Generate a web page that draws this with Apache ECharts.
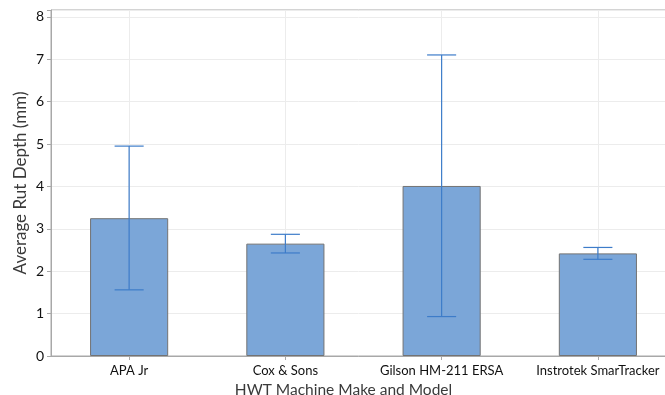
<!DOCTYPE html>
<html>
<head>
<meta charset="utf-8">
<script src="https://cdn.jsdelivr.net/npm/echarts@6/dist/echarts.min.js"></script>
<style>
  html, body { margin: 0; padding: 0; background: #fff; }
  #chart { width: 665px; height: 395px; }
</style>
</head>
<body>
<div id="chart"></div>
<script>
// machines on the x axis
var machines = ['APA Jr', 'Cox & Sons', 'Gilson HM-211 ERSA', 'Instrotek SmarTracker'];
// mean rut depth (mm) - bar heights
var meanRut = [3.25, 2.65, 4.01, 2.42];
// error bar ends (mm)
var errLow = [1.56, 2.43, 0.93, 2.28];
var errHigh = [4.95, 2.87, 7.10, 2.56];

var barColor = '#7ba6d8';
var errColor = '#3d7cc9';
var fontName = 'Lato';

// build [index, low, high] rows for the custom error series
var errData = [];
for (var i = 0; i < machines.length; i++) {
  errData.push([i, errLow[i], errHigh[i]]);
}

var chart = echarts.init(document.getElementById('chart'));

var option = {
  animation: false,
  textStyle: { fontFamily: fontName },
  grid: {
    left: 51,
    right: -11,
    top: 10,
    bottom: 39,
    show: true,
    borderColor: '#a8a8a8',
    borderWidth: 1,
    containLabel: false,
    outerBoundsMode: 'none'
  },
  xAxis: {
    type: 'category',
    data: machines,
    boundaryGap: true,
    name: 'HWT Machine Make and Model',
    nameLocation: 'middle',
    nameGap: 26,
    nameMoveOverlap: false,
    nameTextStyle: { fontSize: 15.5, color: '#3a3a3a', fontFamily: fontName, padding: [0, 40, 0, 0] },
    axisLine: { show: true, lineStyle: { color: '#a8a8a8' } },
    axisTick: { show: true, alignWithLabel: true, length: 4, lineStyle: { color: '#a8a8a8' } },
    axisLabel: { color: '#111', fontSize: 13, margin: 8, interval: 0 },
    splitLine: { show: true, alignWithLabel: true, lineStyle: { color: '#ececec' } }
  },
  yAxis: {
    type: 'value',
    min: 0,
    max: 8.16,
    interval: 1,
    name: 'Average Rut Depth (mm)',
    nameLocation: 'middle',
    nameGap: 22,
    nameMoveOverlap: false,
    nameTextStyle: { fontSize: 17, color: '#3a3a3a', fontFamily: fontName },
    axisLine: { show: true, lineStyle: { color: '#a8a8a8' } },
    axisTick: { show: true, length: 4, lineStyle: { color: '#a8a8a8' } },
    axisLabel: {
      color: '#111',
      fontSize: 14,
      margin: 7,
      formatter: function (v) {
        // hide the label at the padded top of the axis
        return Math.abs(v - Math.round(v)) < 1e-6 ? String(Math.round(v)) : '';
      }
    },
    splitLine: { show: true, lineStyle: { color: '#ececec' } }
  },
  series: [
    {
      name: 'Average Rut Depth',
      type: 'bar',
      data: meanRut,
      barWidth: '50%',
      itemStyle: { color: barColor, borderColor: '#737373', borderWidth: 1 }
    },
    {
      name: 'Error',
      type: 'custom',
      data: errData,
      z: 10,
      renderItem: function (params, api) {
        var x = api.value(0);
        var lo = api.coord([x, api.value(1)]);
        var hi = api.coord([x, api.value(2)]);
        var half = api.size([1, 0])[0] * 0.093;
        var st = { stroke: errColor, lineWidth: 1.2 };
        return {
          type: 'group',
          children: [
            { type: 'line', shape: { x1: hi[0], y1: hi[1], x2: lo[0], y2: lo[1] }, style: st },
            { type: 'line', shape: { x1: hi[0] - half, y1: hi[1], x2: hi[0] + half, y2: hi[1] }, style: st },
            { type: 'line', shape: { x1: lo[0] - half, y1: lo[1], x2: lo[0] + half, y2: lo[1] }, style: st }
          ]
        };
      }
    }
  ]
};

chart.setOption(option);
window.addEventListener('resize', function () {
  chart.resize();
});
</script>
</body>
</html>
